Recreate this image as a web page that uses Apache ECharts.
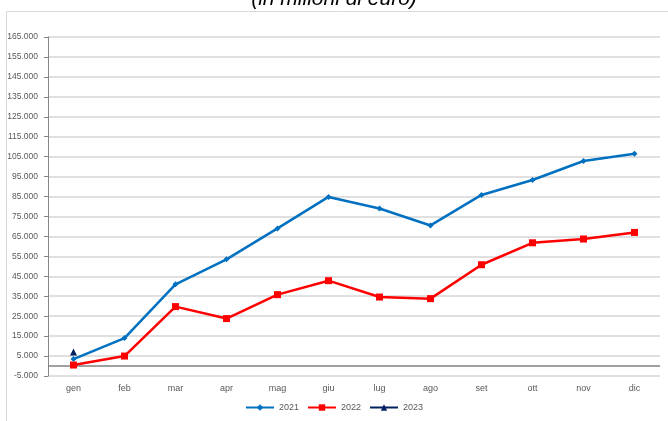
<!DOCTYPE html>
<html><head><meta charset="utf-8">
<script src="https://cdn.jsdelivr.net/npm/echarts@6/dist/echarts.min.js"></script>
<style>html,body{margin:0;padding:0;background:#fff}#c{width:668px;height:421px}</style>
</head><body><div id="c"></div>
<script>
const months = ['gen','feb','mar','apr','mag','giu','lug','ago','set','ott','nov','dic'];
const s2021 = [3500, 14000, 41000, 53500, 69000, 84800, 79000, 70500, 85800, 93300, 102800, 106500];
const s2022 = [500, 5000, 29800, 23800, 35800, 42800, 34600, 33800, 50800, 61800, 63700, 67000];
const s2023 = [7000, null, null, null, null, null, null, null, null, null, null, null];
const titleText = '(in milioni di euro)';

const chart = echarts.init(document.getElementById('c'), null, {renderer:'canvas'});
const fmt = v => (v < 0 ? '-' : '') + Math.abs(v).toString().replace(/\B(?=(\d{3})+(?!\d))/g, '.');
chart.setOption({
  animation:false,
  textStyle:{fontFamily:'Liberation Sans Narrow, Liberation Sans, sans-serif'},
  title:{text:titleText, left:'center', top:-16, textStyle:{fontSize:21, fontStyle:'italic', fontWeight:'normal', color:'#000', fontFamily:'Liberation Sans, Arial, sans-serif'}},
  graphic:[{type:'rect', shape:{x:6.5,y:11.5,width:700,height:420}, style:{fill:'none', stroke:'#d9d9d9', lineWidth:1}, z:-1}],
  grid:{left:48, right:8, top:37, bottom:45},
  legend:{bottom:4, left:'center', itemWidth:28, itemHeight:8, itemGap:8, textStyle:{fontSize:9, color:'#595959'},
    data:['2021','2022','2023']},
  xAxis:{type:'category', data:months, boundaryGap:true,
    axisLine:{show:false}, axisTick:{show:false},
    axisLabel:{fontSize:9, color:'#595959', margin:8}},
  yAxis:{type:'value', min:-5000, max:165000, interval:10000,
    axisLine:{show:true, lineStyle:{color:'#868686', width:1}},
    axisTick:{show:true, length:4, lineStyle:{color:'#868686'}},
    axisLabel:{fontSize:8.5, color:'#595959', margin:10, formatter:fmt},
    splitLine:{lineStyle:{color:'#d6d6d6', width:1.5}}},
  series:[
    {name:'2021', type:'line', data:s2021, color:'#0070C0', symbol:'diamond', symbolSize:6,
      lineStyle:{width:2.5}, z:3,
      markLine:{silent:true, symbol:'none', label:{show:false}, lineStyle:{color:'#808080', type:'solid', width:1.5},
        data:[{yAxis:0}], z:1}},
    {name:'2022', type:'line', data:s2022, color:'#FF0000', symbol:'rect', symbolSize:7, lineStyle:{width:2.5}, z:3},
    {name:'2023', type:'line', data:s2023, color:'#002060', symbol:'triangle', symbolSize:7, lineStyle:{width:2.5}, z:4}
  ]
});
</script></body></html>
